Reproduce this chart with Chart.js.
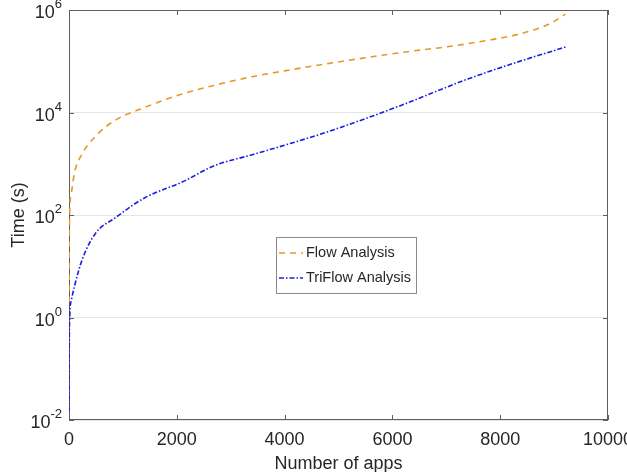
<!DOCTYPE html>
<html lang="en">
<head>
  <meta charset="UTF-8">
  <title>Flow vs TriFlow analysis time</title>
  <script src="https://cdn.jsdelivr.net/npm/chart.js"></script>
  <style>
    html, body { margin: 0; padding: 0; background: #fff; }
    canvas { display: block; }
  </style>
</head>
<body>
<canvas id="timeChart" width="627" height="472"></canvas>

<script>
  // values
  const appCounts = [1, 4, 13, 45, 100, 250, 500, 850, 1400, 2100, 2700, 3400, 4000, 4800, 6100, 7400, 8600, 8950, 9210];
  const flowTimes = [2, 20, 110, 270, 650, 1600, 3500, 7000, 12500, 23000, 34000, 50000, 65000, 90000, 145000, 220000, 400000, 560000, 830000];
  const triflowTimes = [0.015, 0.2, 1.0, 2.2, 4, 14, 45, 87, 215, 440, 920, 1500, 2300, 4200, 13000, 45000, 120000, 155000, 190000];

  const seriesNames = ["Flow Analysis", "TriFlow Analysis"];
  const seriesColors = ["#e8962a", "#1c1ce0"];
  const seriesDashes = [[6, 5], [5, 2, 1.5, 2]];

  const xTicks = [0, 2000, 4000, 6000, 8000, 10000];
  const yTicks = [1e-2, 1e0, 1e2, 1e4, 1e6];
  const yTickExponents = ["-2", "0", "2", "4", "6"];

  const xTitle = "Number of apps";
  const yTitle = "Time (s)";

  const FONT = "'Liberation Sans', Arial, Helvetica, sans-serif";
  const axisColor = "#5f5f5f";

  function toPoints(ys) {
    return appCounts.map((x, i) => ({ x: x, y: ys[i] }));
  }

  // box and ticks sit under the lines, like matlab's default layer
  const axesPlugin = {
    id: "matlabAxes",
    beforeDatasetsDraw(chart) {
      const ctx = chart.ctx;
      const a = chart.chartArea;
      const xs = chart.scales.x;
      const ys = chart.scales.y;

      ctx.save();
      ctx.strokeStyle = axisColor;
      ctx.lineWidth = 1;
      ctx.setLineDash([]);
      ctx.strokeRect(a.left + 0.5, a.top + 0.5, a.right - a.left - 1, a.bottom - a.top - 1);

      const tl = 5;
      ctx.beginPath();
      xTicks.forEach(v => {
        const px = Math.round(xs.getPixelForValue(v)) + 0.5;
        ctx.moveTo(px, a.bottom); ctx.lineTo(px, a.bottom - tl);
        ctx.moveTo(px, a.top); ctx.lineTo(px, a.top + tl);
      });
      yTicks.forEach(v => {
        const py = Math.round(ys.getPixelForValue(v)) + 0.5;
        ctx.moveTo(a.left, py); ctx.lineTo(a.left + tl, py);
        ctx.moveTo(a.right, py); ctx.lineTo(a.right - tl, py);
      });
      ctx.stroke();
      ctx.restore();
    },
    afterDatasetsDraw(chart) {
      const ctx = chart.ctx;
      const a = chart.chartArea;
      const xs = chart.scales.x;
      const ys = chart.scales.y;

      ctx.save();
      ctx.fillStyle = "#262626";
      ctx.font = "18px " + FONT;
      ctx.textAlign = "center";
      ctx.textBaseline = "alphabetic";
      xTicks.forEach(v => {
        ctx.fillText(String(v), xs.getPixelForValue(v), a.bottom + 25);
      });

      yTicks.forEach((v, i) => {
        const py = ys.getPixelForValue(v);
        ctx.font = "13px " + FONT;
        const ew = ctx.measureText(yTickExponents[i]).width;
        ctx.textAlign = "right";
        ctx.fillText(yTickExponents[i], a.left - 7, py - 2);
        ctx.font = "18px " + FONT;
        ctx.fillText("10", a.left - 7 - ew, py + 8);
      });

      ctx.font = "18px " + FONT;
      ctx.textAlign = "center";
      ctx.fillText(xTitle, (a.left + a.right) / 2, a.bottom + 49);

      ctx.save();
      ctx.translate(24, (a.top + a.bottom) / 2);
      ctx.rotate(-Math.PI / 2);
      ctx.fillText(yTitle, 0, 0);
      ctx.restore();

      // legend
      const lx = 276, ly = 237, lw = 140, lh = 56;
      ctx.fillStyle = "#fff";
      ctx.fillRect(lx, ly, lw, lh);
      ctx.strokeStyle = "#8a8a8a";
      ctx.lineWidth = 1;
      ctx.strokeRect(lx + 0.5, ly + 0.5, lw, lh);
      ctx.font = "14.5px " + FONT;
      ctx.textAlign = "left";
      ctx.textBaseline = "middle";
      seriesNames.forEach((name, i) => {
        const cy = ly + 16 + i * 25;
        ctx.strokeStyle = seriesColors[i];
        ctx.lineWidth = 1.5;
        ctx.setLineDash(seriesDashes[i]);
        ctx.beginPath();
        ctx.moveTo(lx + 3, cy);
        ctx.lineTo(lx + 27, cy);
        ctx.stroke();
        ctx.setLineDash([]);
        ctx.fillStyle = "#262626";
        ctx.fillText(name, lx + 30, cy);
      });
      ctx.restore();
    }
  };

  const ctx = document.getElementById("timeChart").getContext("2d");
  new Chart(ctx, {
    type: "line",
    data: {
      datasets: [
        {
          label: seriesNames[0],
          data: toPoints(flowTimes),
          borderColor: seriesColors[0],
          borderWidth: 1.6,
          borderDash: seriesDashes[0],
          pointRadius: 0,
          fill: false,
          cubicInterpolationMode: "monotone"
        },
        {
          label: seriesNames[1],
          data: toPoints(triflowTimes),
          borderColor: seriesColors[1],
          borderWidth: 1.6,
          borderDash: seriesDashes[1],
          pointRadius: 0,
          fill: false,
          cubicInterpolationMode: "monotone"
        }
      ]
    },
    options: {
      responsive: false,
      animation: false,
      layout: { padding: { top: 10, right: 19, left: 0, bottom: 0 } },
      plugins: {
        legend: { display: false },
        tooltip: { enabled: false }
      },
      scales: {
        x: {
          type: "linear",
          min: 0,
          max: 10000,
          ticks: { display: false },
          grid: { display: false },
          border: { display: false },
          afterFit: s => { s.height = 52; }
        },
        y: {
          type: "logarithmic",
          min: 1e-2,
          max: 1e6,
          ticks: { display: false },
          afterBuildTicks: s => { s.ticks = yTicks.map(v => ({ value: v })); },
          grid: { color: "#e6e6e6", drawTicks: false },
          border: { display: false },
          afterFit: s => { s.width = 69; }
        }
      }
    },
    plugins: [axesPlugin]
  });
</script>
</body>
</html>
